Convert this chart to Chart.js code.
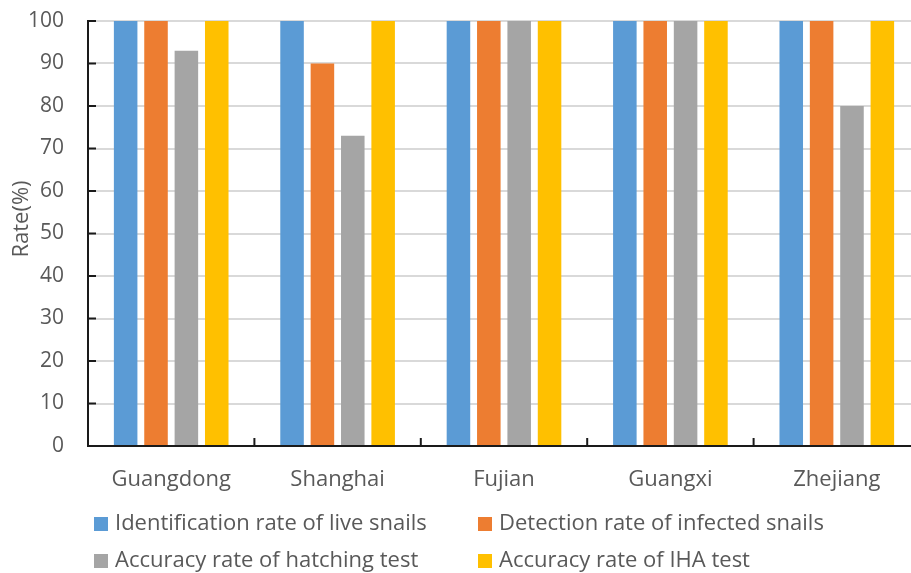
<!DOCTYPE html>
<html><head><meta charset="utf-8">
<script src="https://cdn.jsdelivr.net/npm/chart.js@4/dist/chart.umd.min.js"></script>
<style>html,body{margin:0;padding:0;background:#fff;overflow:hidden}canvas{display:block}</style>
</head><body>
<canvas id="c" width="930" height="573"></canvas>
<script>
const categories = ['Guangdong', 'Shanghai', 'Fujian', 'Guangxi', 'Zhejiang'];
const seriesNames = [
  'Identification rate of live snails',
  'Detection rate of infected snails',
  'Accuracy rate of hatching test',
  'Accuracy rate of IHA test'
];
const identificationRate = [100, 100, 100, 100, 100];
const detectionRate = [100, 90, 100, 100, 100];
const hatchingAccuracy = [93, 73, 100, 100, 80];
const ihaAccuracy = [100, 100, 100, 100, 100];
const yTickValues = [0, 10, 20, 30, 40, 50, 60, 70, 80, 90, 100];
const yTitle = 'Rate(%)';
const seriesColors = ['#5B9BD5', '#ED7D31', '#A5A5A5', '#FFC000'];

const FONT = "'Open Sans', sans-serif";
const TEXT = '#595959';

const extrasPlugin = {
  id: 'extras',
  afterDraw(chart) {
    const ctx = chart.ctx;
    const area = chart.chartArea;
    const xs = chart.scales.x, ys = chart.scales.y;
    ctx.save();
    ctx.strokeStyle = '#1a1a1a';
    ctx.lineWidth = 2;
    yTickValues.forEach(v => {
      const y = ys.getPixelForValue(v);
      ctx.beginPath(); ctx.moveTo(area.left, y); ctx.lineTo(area.left + 8, y); ctx.stroke();
    });
    const step = xs.width / categories.length;
    for (let i = 1; i < categories.length; i++) {
      const x = xs.getPixelForValue(i) - step / 2;
      ctx.beginPath(); ctx.moveTo(x, area.bottom); ctx.lineTo(x, area.bottom - 8); ctx.stroke();
    }
    // y-axis title
    ctx.save();
    ctx.translate(22, 219);
    ctx.rotate(-Math.PI / 2);
    ctx.font = '22px ' + FONT;
    ctx.fillStyle = TEXT;
    ctx.textAlign = 'center';
    ctx.textBaseline = 'middle';
    ctx.fillText(yTitle, 0, 0);
    ctx.restore();
    // legend 2x2
    const colX = [94, 478];
    const rowY = [524, 561];
    ctx.font = '22px ' + FONT;
    ctx.textBaseline = 'middle';
    ctx.textAlign = 'left';
    chart.data.datasets.forEach((ds, i) => {
      const cx = colX[i % 2], cy = rowY[Math.floor(i / 2)];
      ctx.fillStyle = ds.backgroundColor;
      ctx.fillRect(cx, cy - 7, 14, 14);
      ctx.fillStyle = TEXT;
      ctx.fillText(ds.label, cx + 21, cy);
    });
    ctx.restore();
  }
};

new Chart(document.getElementById('c'), {
  type: 'bar',
  data: {
    labels: categories,
    datasets: [
      { label: seriesNames[0], data: identificationRate, backgroundColor: seriesColors[0] },
      { label: seriesNames[1], data: detectionRate, backgroundColor: seriesColors[1] },
      { label: seriesNames[2], data: hatchingAccuracy, backgroundColor: seriesColors[2] },
      { label: seriesNames[3], data: ihaAccuracy, backgroundColor: seriesColors[3] }
    ]
  },
  options: {
    responsive: false,
    animation: false,
    devicePixelRatio: 1,
    categoryPercentage: 0.73,
    barPercentage: 0.775,
    layout: { padding: { top: 21, right: 10, left: 0, bottom: 0 } },
    plugins: { legend: { display: false }, tooltip: { enabled: false } },
    scales: {
      x: {
        grid: { display: false, drawTicks: false },
        border: { display: true, color: '#1a1a1a', width: 2 },
        ticks: { color: TEXT, font: { family: FONT, size: 22 }, padding: 21, maxRotation: 0 },
        afterFit(scale) { scale.height = 127; }
      },
      y: {
        min: 0, max: 100,
        afterBuildTicks(scale) { scale.ticks = yTickValues.map(v => ({ value: v })); },
        grid: { color: '#d9d9d9', lineWidth: 2, drawTicks: false },
        border: { display: true, color: '#1a1a1a', width: 2 },
        ticks: { color: TEXT, font: { family: FONT, size: 21 }, padding: 24 },
        afterFit(scale) { scale.width = 88; scale.paddingTop = 0; scale.paddingBottom = 0; }
      }
    }
  },
  plugins: [extrasPlugin]
});
</script>
</body></html>
